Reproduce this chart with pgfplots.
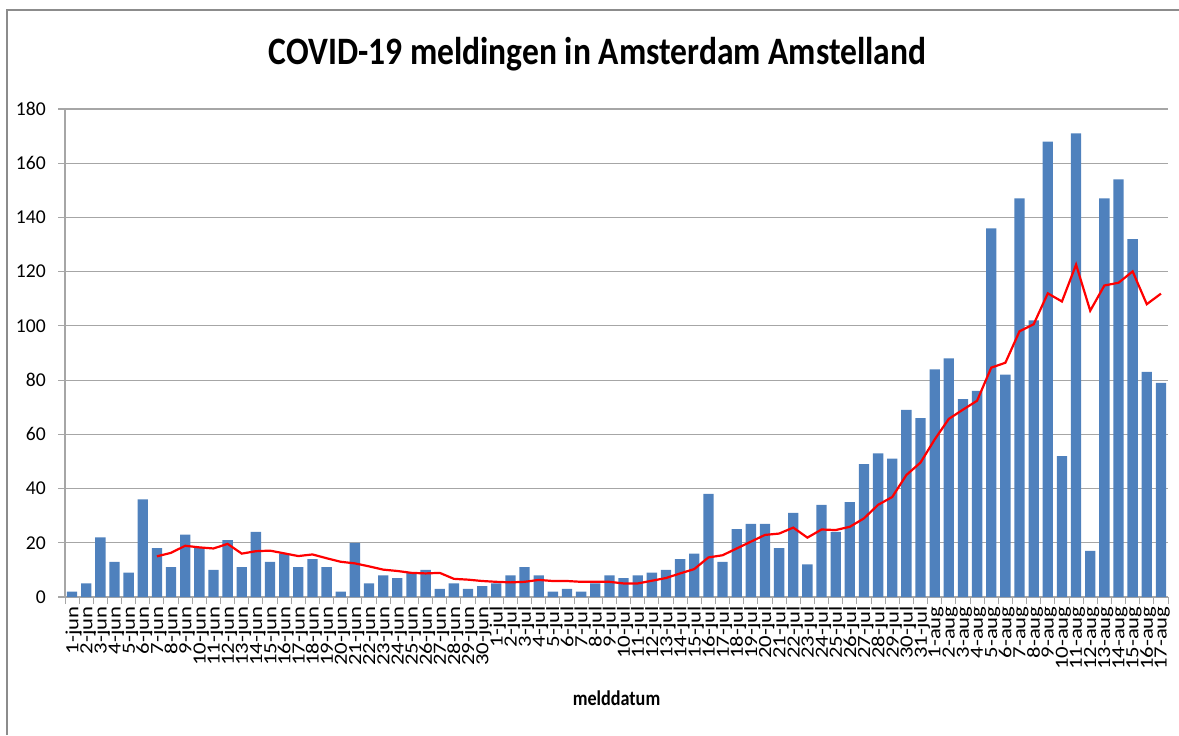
\documentclass[border=0pt]{standalone}
\usepackage{fontspec}
\setmainfont{Carlito}
\newfontfamily\titlefont[FakeStretch=0.865]{Carlito}
\newfontfamily\xtfont[FakeStretch=1.22]{Carlito}
\usepackage{pgfplots}
\usepackage{pgfplotstable}
\pgfplotsset{compat=1.18}

\definecolor{barblue}{HTML}{4F81BD}
\definecolor{gridgray}{HTML}{A6A6A6}

% idx, day, reports, 7-day average
\pgfplotstableread{
x day n avg
0 1-jun 2 nan
1 2-jun 5 nan
2 3-jun 22 nan
3 4-jun 13 nan
4 5-jun 9 nan
5 6-jun 36 nan
6 7-jun 18 15.0
7 8-jun 11 16.3
8 9-jun 23 18.9
9 10-jun 18 18.3
10 11-jun 10 17.9
11 12-jun 21 19.6
12 13-jun 11 16.0
13 14-jun 24 16.9
14 15-jun 13 17.1
15 16-jun 16 16.1
16 17-jun 11 15.1
17 18-jun 14 15.7
18 19-jun 11 14.3
19 20-jun 2 13.0
20 21-jun 20 12.4
21 22-jun 5 11.3
22 23-jun 8 10.1
23 24-jun 7 9.6
24 25-jun 9 8.9
25 26-jun 10 8.7
26 27-jun 3 8.9
27 28-jun 5 6.7
28 29-jun 3 6.4
29 30-jun 4 5.9
30 1-jul 5 5.6
31 2-jul 8 5.4
32 3-jul 11 5.6
33 4-jul 8 6.3
34 5-jul 2 5.9
35 6-jul 3 5.9
36 7-jul 2 5.6
37 8-jul 5 5.6
38 9-jul 8 5.6
39 10-jul 7 5.0
40 11-jul 8 5.0
41 12-jul 9 6.0
42 13-jul 10 7.0
43 14-jul 14 8.7
44 15-jul 16 10.3
45 16-jul 38 14.6
46 17-jul 13 15.4
47 18-jul 25 17.9
48 19-jul 27 20.4
49 20-jul 27 22.9
50 21-jul 18 23.4
51 22-jul 31 25.6
52 23-jul 12 21.9
53 24-jul 34 24.9
54 25-jul 24 24.7
55 26-jul 35 25.9
56 27-jul 49 29.0
57 28-jul 53 34.0
58 29-jul 51 36.9
59 30-jul 69 45.0
60 31-jul 66 49.6
61 1-aug 84 58.1
62 2-aug 88 65.7
63 3-aug 73 69.1
64 4-aug 76 72.4
65 5-aug 136 84.6
66 6-aug 82 86.4
67 7-aug 147 98.0
68 8-aug 102 100.6
69 9-aug 168 112.0
70 10-aug 52 109.0
71 11-aug 171 122.6
72 12-aug 17 105.6
73 13-aug 147 114.9
74 14-aug 154 115.9
75 15-aug 132 120.1
76 16-aug 83 108.0
77 17-aug 79 111.9
}\meldingen

\begin{document}
\begin{tikzpicture}
  % chart frame (left and top edge only are visible)
  \draw[gray!90, line width=0.9pt] (3.5pt,0) -- (3.5pt,362.5pt) -- (589.5pt,362.5pt);

  \node[anchor=base, font=\titlefont\bfseries\fontsize{19.4}{22}\selectfont]
    at (298.75pt,335pt) {COVID-19 meldingen in Amsterdam Amstelland};

  \begin{axis}[
      at={(32.5pt,69pt)}, anchor=south west,
      scale only axis,
      width=551.5pt, height=244pt,
      xmin=-0.5, xmax=77.5,
      ymin=0, ymax=180,
      ytick={0,20,...,180},
      xtick=data,
      xticklabels from table={\meldingen}{day},
      minor xtick={-0.5,0.5,...,77.5},
      axis x line*=bottom,
      axis y line*=left,
      axis line style={gridgray, line width=0.6pt},
      tick align=outside,
      major tick length=3.5pt,
      minor tick length=3.5pt,
      major x tick style={draw=none},
      minor x tick style={draw=gridgray, line width=0.5pt},
      ytick style={draw=gridgray, line width=0.6pt},
      ymajorgrids,
      grid style={gridgray, line width=0.6pt},
      /pgf/number format/assume math mode=true,
      yticklabel style={font=\fontsize{9.8}{11}\selectfont, xshift=-2.6pt},
      xticklabel style={rotate=90, anchor=east, yshift=-0.7pt,
        font=\xtfont\fontsize{9.3}{10}\selectfont, inner sep=1pt},
      xlabel={melddatum},
      xlabel style={at={(axis description cs:0.5,0)}, anchor=base,
        yshift=-54pt, font=\titlefont\bfseries\fontsize{10.5}{12}\selectfont},
    ]
    \addplot[ybar, bar width=0.73, fill=barblue, draw=none]
      table[x=x, y=n] {\meldingen};
    \addplot[red, line width=1.1pt, mark=none]
      table[x=x, y=avg] {\meldingen};
  \end{axis}

  \pgfresetboundingbox
  \path[use as bounding box] (0,0) rectangle (589.5pt,367.5pt);
\end{tikzpicture}
\end{document}
